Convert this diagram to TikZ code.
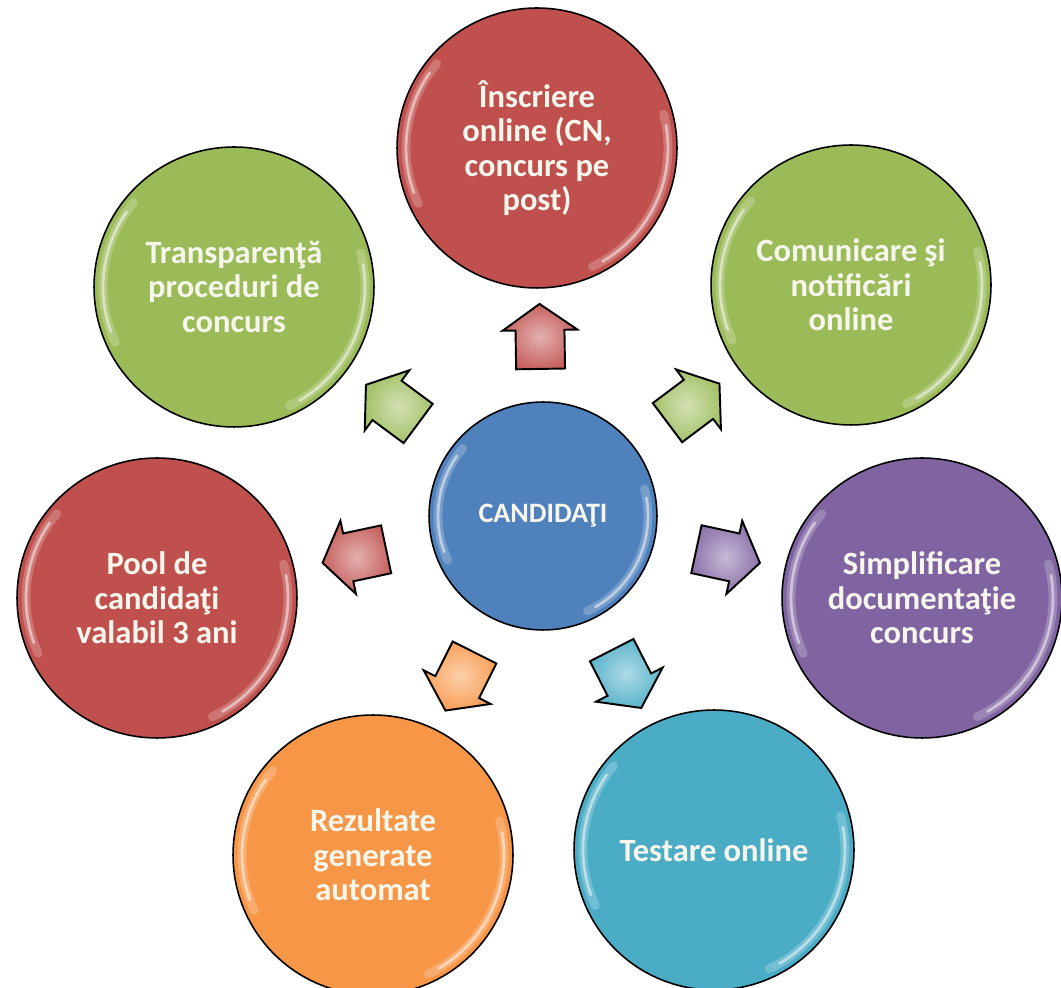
\documentclass[tikz,border=0pt]{standalone}
\usepackage{fontspec}
\setmainfont{Carlito}
\usetikzlibrary{shapes.arrows}
\definecolor{offred}{HTML}{C0504D}
\definecolor{offgreen}{HTML}{9BBB59}
\definecolor{offblue}{HTML}{4F81BD}
\definecolor{offpurple}{HTML}{8064A2}
\definecolor{offcyan}{HTML}{4BACC6}
\definecolor{offorange}{HTML}{F79646}
\definecolor{cream}{RGB}{246,246,236}
\newcommand\glossarcs[1]{%
  \draw[white, opacity=0.22, line width=5pt, line cap=round]
    ([shift={(205:#1)}]path picture bounding box.center) arc[start angle=205, end angle=140, radius=#1]
    ([shift={(-65:#1)}]path picture bounding box.center) arc[start angle=-65, end angle=15, radius=#1];
  \draw[white, opacity=0.5, line width=1.6pt, line cap=round]
    ([shift={(200:#1)}]path picture bounding box.center) arc[start angle=200, end angle=145, radius=#1]
    ([shift={(-60:#1)}]path picture bounding box.center) arc[start angle=-60, end angle=10, radius=#1];}
\tikzset{
  bubble/.style={circle, draw=black, line width=0.9pt, fill=#1, minimum size=5.6cm,
    inner sep=0pt, text=cream, align=center,
    font=\bfseries\fontsize{18.5}{19.6}\selectfont, path picture={\glossarcs{2.62cm}}},
  hub/.style={bubble=#1, minimum size=4.56cm,
    font=\bfseries\fontsize{16}{19}\selectfont, path picture={\glossarcs{2.1cm}}},
  pointer/.style={single arrow, draw=black, line width=1.1pt, minimum height=1.3cm,
    minimum width=1.46cm, inner xsep=0pt, inner ysep=0.47cm,
    single arrow head extend=0.26cm, single arrow tip angle=110,
    inner color=#1!45!white, outer color=#1!90!white, sloped, allow upside down}
}
\begin{document}
\begin{tikzpicture}[x = 0.02cm, y = 0.02cm]
    \useasboundingbox (0,0) rectangle (1061,987);
    % hub and the seven topics
    \node[hub=offblue] (cand) at (543,471) {CANDIDAŢI};
    \node[bubble=offred] (inscr) at (537,839) {Înscriere\\online (CN,\\concurs pe\\post)};
    \node[bubble=offgreen] (transp) at (234,700) {Transparenţă\\proceduri de\\concurs};
    \node[bubble=offgreen] (comun) at (851,702) {Comunicare şi\\notificări\\online};
    \node[bubble=offred] (pool) at (157,389) {Pool de\\candidaţi\\valabil 3 ani};
    \node[bubble=offpurple] (simpl) at (922,389) {Simplificare\\documentaţie\\concurs};
    \node[bubble=offorange] (rezult) at (373,132) {Rezultate\\generate\\automat};
    \node[bubble=offcyan] (testare) at (714,137) {Testare online};
    % block arrows in the gaps
    \path (cand) -- node[pointer=offred] {} (inscr);
    \path (cand) -- node[pointer=offgreen] {} (transp);
    \path (cand) -- node[pointer=offgreen] {} (comun);
    \path (cand) -- node[pointer=offred] {} (pool);
    \path (cand) -- node[pointer=offpurple] {} (simpl);
    \path (cand) -- node[pointer=offorange] {} (rezult);
    \path (cand) -- node[pointer=offcyan] {} (testare);
\end{tikzpicture}
\end{document}
